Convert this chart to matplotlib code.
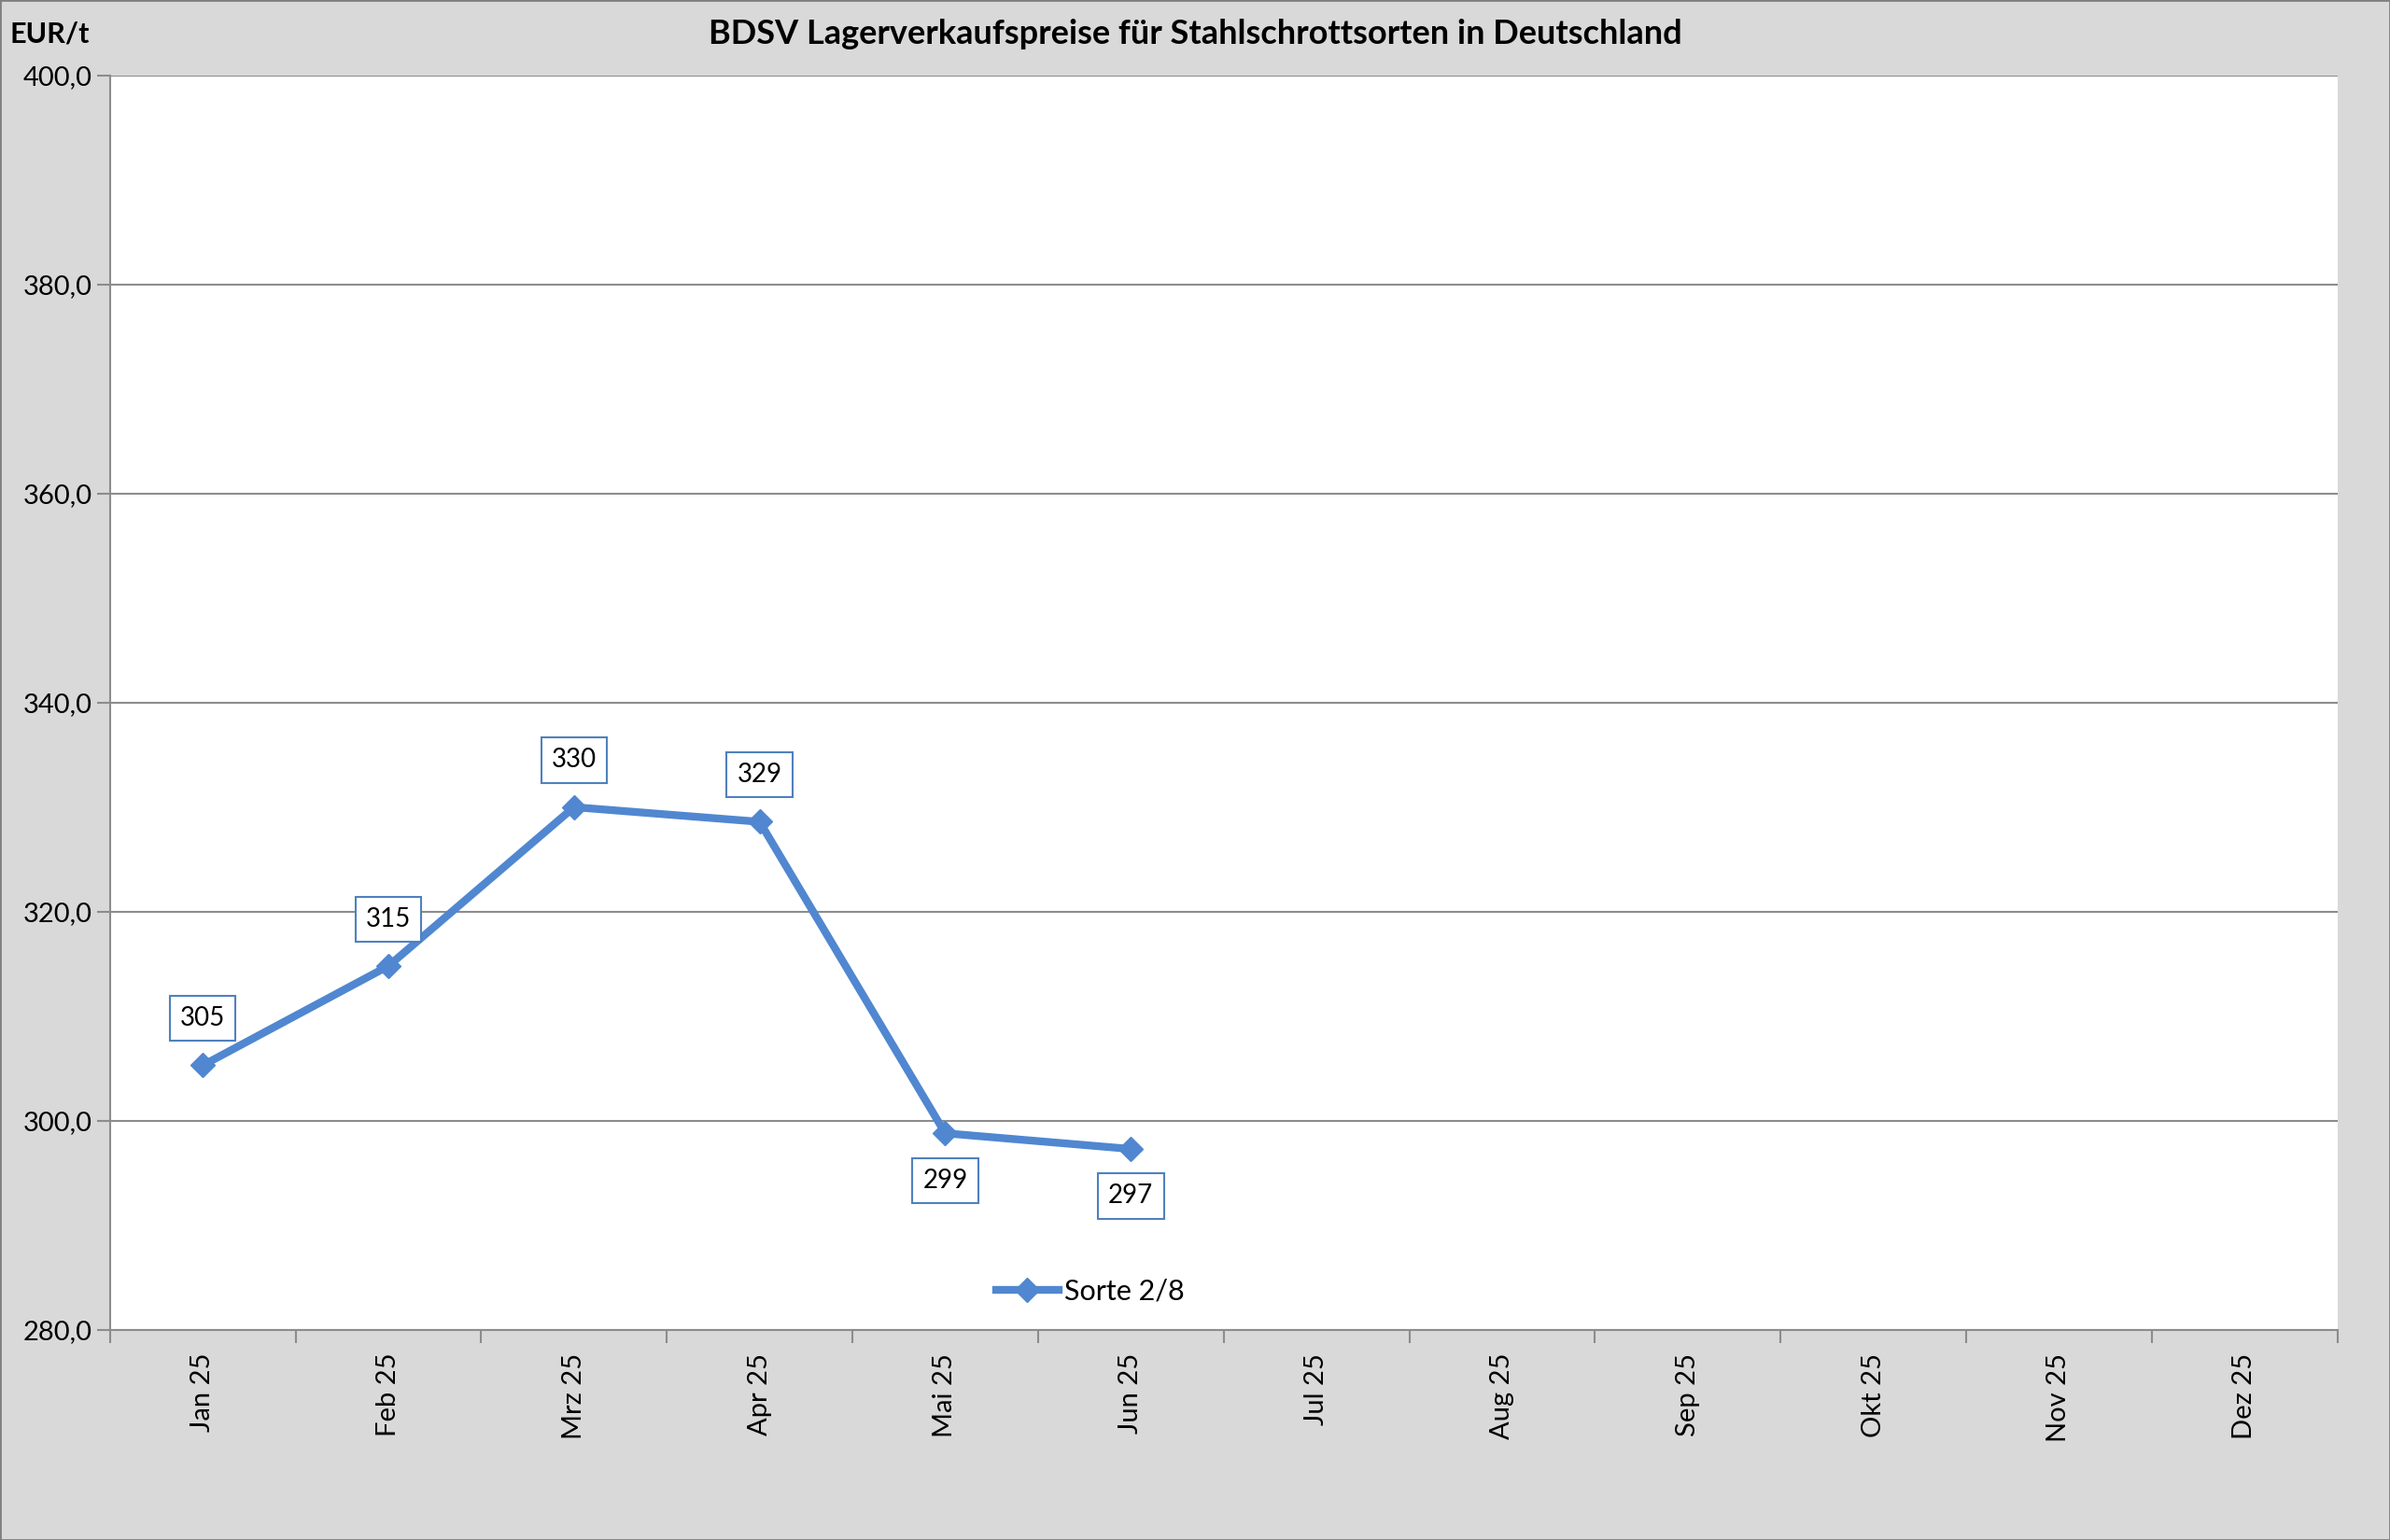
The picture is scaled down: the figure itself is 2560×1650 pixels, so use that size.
import matplotlib.pyplot as plt
from matplotlib.ticker import FixedLocator, NullFormatter

plt.rcParams['font.family'] = ['Lato', 'DejaVu Sans']

months = ["Jan 25", "Feb 25", "Mrz 25", "Apr 25", "Mai 25", "Jun 25",
          "Jul 25", "Aug 25", "Sep 25", "Okt 25", "Nov 25", "Dez 25"]
sorte_2_8 = [305.3, 314.8, 330.0, 328.6, 298.8, 297.3]
labels = ["305", "315", "330", "329", "299", "297"]
label_above = [True, True, True, True, False, False]
y_ticks = [280, 300, 320, 340, 360, 380, 400]

fig = plt.figure(figsize=(25.6, 16.5), dpi=100, facecolor='#D9D9D9')
ax = fig.add_axes([0.046, 0.1365, 0.932, 0.8145])
ax.set_facecolor('white')

line_col = '#5087D0'
x = list(range(len(sorte_2_8)))
ax.plot(x, sorte_2_8, color=line_col, lw=6, marker='D', ms=13,
        label='Sorte 2/8', zorder=3)

for xi, yi, lab, up in zip(x, sorte_2_8, labels, label_above):
    off = 4.5 if up else -4.5
    ax.text(xi, yi + off, lab, ha='center', va='center', fontsize=20,
            bbox=dict(boxstyle='square,pad=0.4', fc='white', ec='#4F81BD', lw=1.5))

ax.set_xlim(-0.5, 11.5)
ax.set_ylim(280, 400)
ax.set_yticks(y_ticks)
ax.set_yticklabels([f"{v:.1f}".replace('.', ',') for v in y_ticks], fontsize=21)
ax.yaxis.grid(True, color='#8C8C8C', lw=1.5)
ax.set_axisbelow(True)

ax.set_xticks(range(12))
ax.set_xticklabels(months, rotation=90, fontsize=21)
ax.tick_params(axis='x', length=0, pad=18)
ax.xaxis.set_minor_locator(FixedLocator([i - 0.5 for i in range(13)]))
ax.xaxis.set_minor_formatter(NullFormatter())
ax.tick_params(axis='x', which='minor', length=10, width=1.5, color='#8C8C8C', direction='out')
ax.tick_params(axis='y', length=10, width=1.5, color='#8C8C8C', direction='out')

for s in ['top', 'right']:
    ax.spines[s].set_visible(False)
for s in ['left', 'bottom']:
    ax.spines[s].set_color('#8C8C8C')
    ax.spines[s].set_linewidth(1.5)

ax.legend(loc='lower center', bbox_to_anchor=(0.44, 0.0), frameon=False,
          fontsize=22, handlelength=2.2, handletextpad=0.2)

fig.text(0.5, 0.978, "BDSV Lagerverkaufspreise für Stahlschrottsorten in Deutschland",
         ha='center', va='center', fontsize=26, fontweight='bold')
fig.text(0.004, 0.978, "EUR/t", ha='left', va='center', fontsize=22, fontweight='bold')

fig.patches.append(plt.Rectangle((0, 0), 1, 1, transform=fig.transFigure,
                                 fill=False, ec='#7F7F7F', lw=2))

fig.savefig('out.png', dpi=100, facecolor=fig.get_facecolor())
